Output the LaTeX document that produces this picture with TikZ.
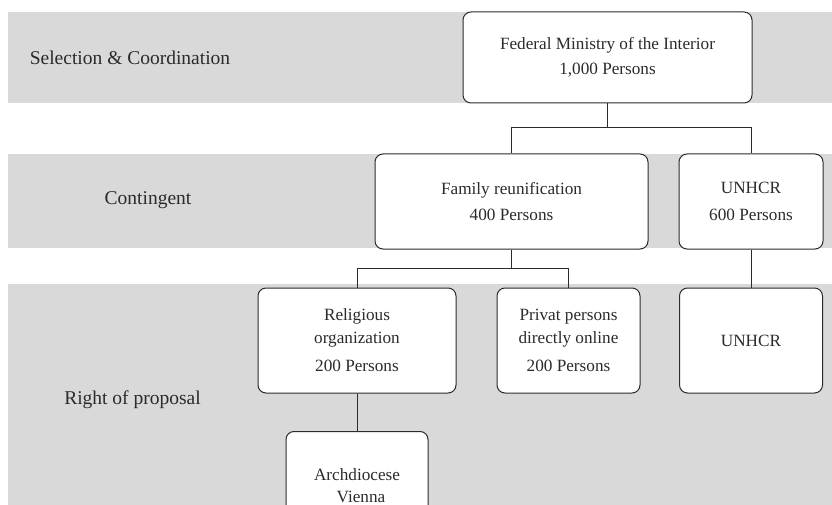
\documentclass[tikz,border=0pt]{standalone}
\usepackage{fontspec}
\setmainfont{Liberation Serif}
\definecolor{band}{HTML}{D9D9D9}
\definecolor{ink}{HTML}{2B2B2B}
\begin{document}
\begin{tikzpicture}[x=1pt,y=-1pt,
  box/.style={draw=ink, line width=1pt, fill=white, rounded corners=8pt,
    align=center, text=ink, inner sep=0pt,
    font=\fontsize{17.2}{22.5}\selectfont},
  lbl/.style={text=ink, inner sep=0pt, font=\fontsize{19.5}{23}\selectfont},
  conn/.style={draw=ink, line width=1pt}]
\clip (0,0) rectangle (832,505);
\fill[white] (0,0) rectangle (832,505);
% bands
\fill[band] (8,12) rectangle (832,103);
\fill[band] (8,154) rectangle (832,248);
\fill[band] (8,284) rectangle (832,505);
% row labels
\node[lbl] (lsel) at (130,58) {Selection \& Coordination};
\node[lbl] (lcon) at (148,200) {Contingent};
\node[lbl] (lrop) at (132.5,400) {Right of proposal};
% boxes
\node[box, minimum width=289pt, minimum height=91pt] (fed) at (607.5,57.5)
  {Federal Ministry of the Interior\\[3pt]1,000 Persons};
\node[box, minimum width=273pt, minimum height=95pt] (fam) at (511.5,201.5)
  {Family reunification\\[4pt]400 Persons};
\node[box, minimum width=144pt, minimum height=95pt] (un1) at (751,201.5)
  {UNHCR\\[4pt]600 Persons};
\node[box, minimum width=198pt, minimum height=105pt] (rel) at (357,340.5)
  {Religious\\organization\\[6pt]200 Persons};
\node[box, minimum width=143pt, minimum height=105pt] (pri) at (568.5,340.5)
  {Privat persons\\directly online\\[6pt]200 Persons};
\node[box, minimum width=143pt, minimum height=105pt] (un2) at (751,340.5)
  {UNHCR};
\node[box, minimum width=142pt, minimum height=108pt] (arch) at (357,485.5)
  {Archdiocese\\\hspace*{8pt}Vienna};
% connectors
\coordinate (j1) at (607.5,128);
\draw[conn] (fed.south) -- (j1);
\draw[conn] (j1) -| (fam.north);
\draw[conn] (j1) -| (un1.north);
\coordinate (j2) at (511.5,268);
\draw[conn] (fam.south) -- (j2);
\draw[conn] (j2) -| (rel.north);
\draw[conn] (j2) -| (pri.north);
\draw[conn] (un1.south) -- (un2.north);
\draw[conn] (rel.south) -- (arch.north);
\end{tikzpicture}
\end{document}
